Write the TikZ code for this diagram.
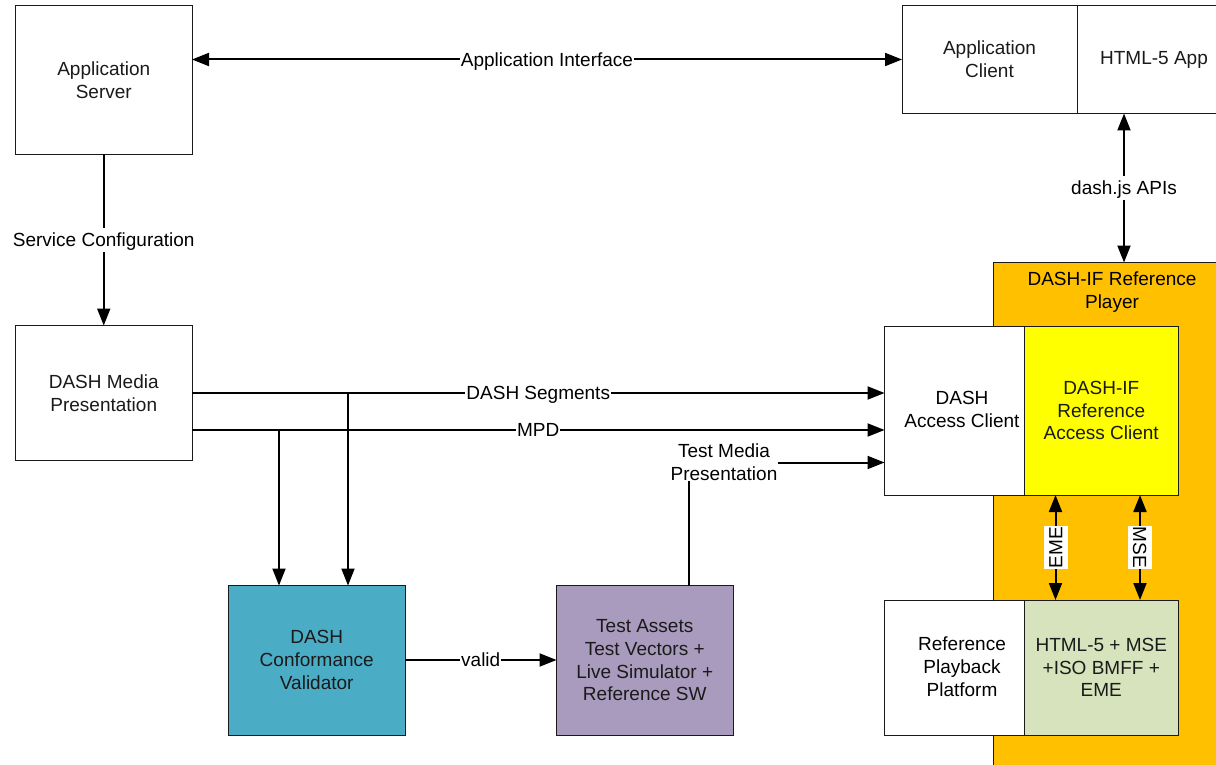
\documentclass[tikz,border=0pt]{standalone}
\usepackage{fontspec}
\setmainfont{Liberation Sans}
\usetikzlibrary{arrows.meta}
\definecolor{playerorange}{HTML}{FFC000}
\definecolor{refyellow}{HTML}{FFFF00}
\definecolor{platgreen}{HTML}{D7E3BC}
\definecolor{valblue}{HTML}{4BACC6}
\definecolor{assetpurple}{HTML}{A99BBD}
\definecolor{linegray}{HTML}{1A1A1A}
\tikzset{
  box/.style={draw=linegray,line width=1pt,fill=white,anchor=north west,inner sep=0pt,outer sep=0pt,align=center,font=\fontsize{19}{22.8}\selectfont,text=linegray},
  txt/.style={inner sep=0pt,outer sep=0pt,align=center,font=\fontsize{19}{22.8}\selectfont,text=black},
  lab/.style={fill=white,inner sep=1pt,outer sep=0pt,align=center,font=\fontsize{19}{22.8}\selectfont,text=black},
  lab1/.style={lab,text height=17.8pt,text depth=4.2pt},
  conn/.style={draw=black,line width=2pt},
  one/.style={conn,-{Triangle[length=17pt,width=13pt]}},
  both/.style={conn,{Triangle[length=17pt,width=13pt]}-{Triangle[length=17pt,width=13pt]}},
}
\begin{document}
\begin{tikzpicture}[x=1pt,y=-1pt]
\useasboundingbox (0,0) rectangle (1216,765);
% player background
\node[box,fill=playerorange,minimum width=240pt,minimum height=520pt] (player) at (993.5,262.5) {};
\node[txt] (playertitle) at (1112,292) {DASH-IF Reference\\Player};
% boxes
\node[box,minimum width=176.5pt,minimum height=149pt] (appserver) at (15.5,5.5) {Application\\Server};
\node[box,minimum width=175pt,minimum height=108pt] (appclient) at (902,5.5) {Application\\Client};
\node[box,minimum width=154pt,minimum height=108pt] (htmlapp) at (1077,5.5) {HTML-5 App};
\node[box,minimum width=176.5pt,minimum height=135pt] (media) at (15.5,325.5) {DASH Media\\Presentation};
\node[box,minimum width=140pt,minimum height=169pt] (access) at (884.5,326) {};
\node[txt] (accesstext) at (962,409.5) {DASH\\Access Client};
\node[box,fill=refyellow,minimum width=153.5pt,minimum height=169pt] (refclient) at (1024.5,326) {DASH-IF\\Reference\\Access Client};
\node[box,minimum width=140pt,minimum height=135pt] (platform) at (884.5,600) {};
\node[txt] (platformtext) at (962,667) {Reference\\Playback\\Platform};
\node[box,fill=platgreen,minimum width=153.5pt,minimum height=135pt] (html) at (1024.5,600) {HTML-5 + MSE\\+ISO BMFF +\\EME};
\node[box,fill=valblue,minimum width=176.5pt,minimum height=149.5pt] (validator) at (228.5,585.5) {DASH\\Conformance\\Validator};
\node[box,fill=assetpurple,minimum width=176.5pt,minimum height=149.5pt] (assets) at (556.5,585.5) {Test Assets\\Test Vectors +\\Live Simulator +\\Reference SW};
% named ports
\coordinate (aiy) at (0,59.5);
\coordinate (segy) at (0,393);
\coordinate (mpdy) at (0,430);
\coordinate (tmy) at (0,462.5);
\coordinate (validy) at (0,660);
\coordinate (apix) at (1124,0);
\coordinate (emex) at (1055.5,0);
\coordinate (msex) at (1140,0);
\coordinate (t1x) at (279,0);
\coordinate (t2x) at (348,0);
\coordinate (t3x) at (689,0);
% connectors
\draw[both] (appserver.east |- aiy) -- node[lab1] (ailabel) {Application Interface} (appclient.west |- aiy);
\draw[one] (appserver.south) -- node[lab1] (sclabel) {Service Configuration} (media.north);
\draw[one] (media.east |- segy) -- node[lab1] (seglabel) {DASH Segments} (access.west |- segy);
\draw[one] (media.east |- mpdy) -- node[lab1] (mpdlabel) {MPD} (access.west |- mpdy);
\draw[one] (t2x |- segy) -- (t2x |- validator.north);
\draw[one] (t1x |- mpdy) -- (t1x |- validator.north);
\draw[one] (t3x |- assets.north) -- (t3x |- tmy) -- (access.west |- tmy);
\node[lab] (tmlabel) at (724,462) {Test Media\\Presentation};
\draw[one] (validator.east |- validy) -- node[lab1] (validlabel) {valid} (assets.west |- validy);
\draw[both] (apix |- htmlapp.south) -- node[lab1] (apilabel) {dash.js APIs} (apix |- player.north);
\draw[both] (emex |- refclient.south) -- node[lab1,rotate=90] (emelabel) {EME} (emex |- html.north);
\draw[both] (msex |- refclient.south) -- node[lab1,rotate=-90] (mselabel) {MSE} (msex |- html.north);
\end{tikzpicture}
\end{document}
